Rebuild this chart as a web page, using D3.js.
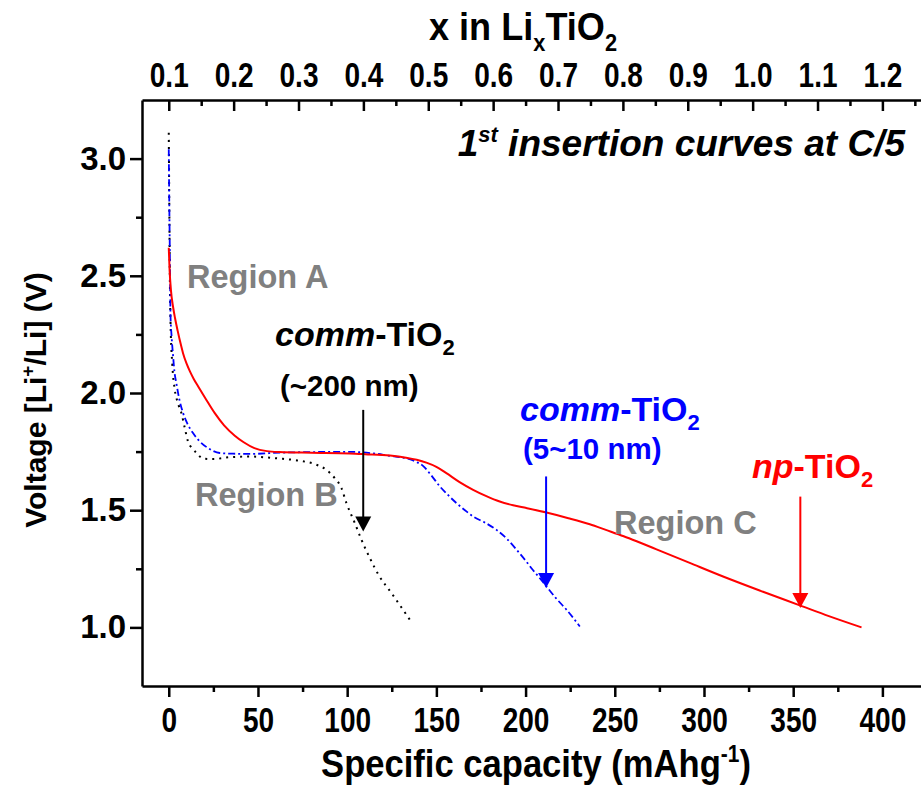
<!DOCTYPE html>
<html>
<head>
<meta charset="utf-8">
<script src="https://cdn.jsdelivr.net/npm/d3@7"></script>
<style>
	body { margin: 0; background: #fff; }
	text { font-family: "Liberation Sans", Arial, sans-serif; font-weight: bold; }
</style>
</head>
<body>
<div id="chart"></div>
<script>
var width = 921;
var height = 792;

// tick values
var capacityTicks = [0, 50, 100, 150, 200, 250, 300, 350, 400];
var capacityMinor = [25, 75, 125, 175, 225, 275, 325, 375];
var liTicks = [0.1, 0.2, 0.3, 0.4, 0.5, 0.6, 0.7, 0.8, 0.9, 1.0, 1.1, 1.2];
var liMinor = [0.15, 0.25, 0.35, 0.45, 0.55, 0.65, 0.75, 0.85, 0.95, 1.05, 1.15, 1.25];
var voltageTicks = [1.0, 1.5, 2.0, 2.5, 3.0];
var voltageMinor = [1.25, 1.75, 2.25, 2.75];

// np-TiO2 (red, solid): [capacity, voltage]
var npTiO2 = [
	[0, 2.62], [0.5, 2.52], [1.2, 2.44], [2.4, 2.368], [3.5, 2.32], [5, 2.265],
	[6.5, 2.215], [8, 2.17], [10, 2.125], [12, 2.09], [14, 2.06], [16.5, 2.028],
	[20.5, 1.978], [25.8, 1.914], [31, 1.862], [37, 1.818], [42, 1.79],
	[48, 1.765], [55, 1.752], [62, 1.748], [80, 1.745], [101.5, 1.742],
	[110, 1.739], [124, 1.733], [133, 1.724], [139, 1.715], [144.4, 1.703],
	[150, 1.685], [155.6, 1.658], [163, 1.62], [170.6, 1.587], [178, 1.56],
	[185.5, 1.537], [193, 1.521], [200.5, 1.509], [211.7, 1.49], [224, 1.466],
	[236, 1.44], [245, 1.416], [255, 1.389], [264, 1.362], [273.4, 1.333],
	[292, 1.275], [310.7, 1.217], [332, 1.155], [353.7, 1.094], [370, 1.048],
	[388.3, 1.0]
];

// comm-TiO2 5~10 nm (blue, dash-dot)
var commSmall = [
	[0, 3.04], [0.3, 2.8], [0.6, 2.6], [0.95, 2.34], [1.6, 2.24], [2.4, 2.16],
	[3.2, 2.09], [4.3, 2.04], [6, 1.97], [8, 1.915], [10.5, 1.868], [13.6, 1.829],
	[17.4, 1.793], [22, 1.765], [25, 1.752], [28.6, 1.744], [36, 1.741],
	[45, 1.740], [64, 1.746], [80, 1.748], [101.5, 1.749], [115, 1.742],
	[124, 1.732], [130, 1.726], [135, 1.718], [139, 1.705], [142.5, 1.689],
	[147, 1.65], [152, 1.601], [156.5, 1.565], [161.3, 1.530], [166, 1.5],
	[170.6, 1.473], [177, 1.448], [183.7, 1.416], [189.5, 1.378], [195, 1.331],
	[200, 1.285], [204, 1.246], [208, 1.21], [211.7, 1.175], [217, 1.125],
	[223, 1.075], [230.4, 1.004]
];

// comm-TiO2 ~200 nm (black, dotted)
var commLarge = [
	[0, 3.11], [0.3, 2.8], [0.6, 2.5], [1.0, 2.3], [2.0, 2.12], [3.4, 2.013],
	[5, 1.96], [7.1, 1.914], [9, 1.85], [10.8, 1.793], [13, 1.765], [15.5, 1.745],
	[19.2, 1.72], [24.8, 1.718], [34.2, 1.726], [45.4, 1.729], [54.8, 1.725],
	[64, 1.719], [73.4, 1.711], [82.8, 1.694], [88.4, 1.672], [93, 1.637],
	[96.8, 1.594], [99.6, 1.53], [104.3, 1.445], [108, 1.374], [112.7, 1.296],
	[117.9, 1.22], [124.8, 1.147], [131.7, 1.071], [135.1, 1.033]
];

var svg = d3
	.select("#chart")
	.append("svg")
	.attr("width", width)
	.attr("height", height)
	.style("background", "#fff");

var left = 142;
var right = 927;
var top_ = 100;
var bottom = 686;
var squeeze = 0.8; // the tick labels are horizontally condensed

var xscale = d3.scaleLinear().domain([-15, 425]).range([left, right]);
var yscale = d3.scaleLinear().domain([0.75, 3.25]).range([bottom, top_]);
var liscale = d3
	.scaleLinear()
	.domain([0.1 + (-15 * 1.1) / 400, 0.1 + (425 * 1.1) / 400])
	.range([left, right]);

function styleAxis(g) {
	g.selectAll("path").attr("stroke", "#000").attr("stroke-width", 2.5);
	g.selectAll("line").attr("stroke", "#000").attr("stroke-width", 2.5);
	g.selectAll("text").attr("fill", "#000");
}

// bottom axis
var xaxis = svg
	.append("g")
	.attr("transform", `translate(0,${bottom})`)
	.call(d3.axisBottom(xscale).tickValues(capacityTicks).tickSize(11).tickPadding(10).tickSizeOuter(0))
	.call(styleAxis);
xaxis.selectAll("text")
	.attr("font-size", 35)
	.attr("transform", `scale(${squeeze},1)`);
svg
	.append("g")
	.attr("transform", `translate(0,${bottom})`)
	.call(d3.axisBottom(xscale).tickValues(capacityMinor).tickSize(6).tickFormat("").tickSizeOuter(0))
	.call(styleAxis)
	.select("path").remove();

// left axis
var yaxis = svg
	.append("g")
	.attr("transform", `translate(${left},0)`)
	.call(d3.axisLeft(yscale).tickValues(voltageTicks).tickSize(12).tickPadding(4).tickSizeOuter(0).tickFormat(d3.format(".1f")))
	.call(styleAxis);
yaxis.selectAll("text").attr("font-size", 33);
svg
	.append("g")
	.attr("transform", `translate(${left},0)`)
	.call(d3.axisLeft(yscale).tickValues(voltageMinor).tickSize(6).tickFormat("").tickSizeOuter(0))
	.call(styleAxis)
	.select("path").remove();

// top axis: ticks point into the plot, labels above
svg
	.append("g")
	.attr("transform", `translate(0,${top_})`)
	.call(d3.axisBottom(liscale).tickValues(liTicks).tickSize(11).tickFormat("").tickSizeOuter(0))
	.call(styleAxis);
svg
	.append("g")
	.attr("transform", `translate(0,${top_})`)
	.call(d3.axisBottom(liscale).tickValues(liMinor).tickSize(6).tickFormat("").tickSizeOuter(0))
	.call(styleAxis)
	.select("path").remove();
var topLabels = svg
	.append("g")
	.attr("transform", `translate(0,${top_})`)
	.call(d3.axisTop(liscale).tickValues(liTicks).tickSize(0).tickPadding(13).tickFormat(d3.format(".1f")));
topLabels.select("path").remove();
topLabels.selectAll("text")
	.attr("font-size", 35)
	.attr("fill", "#000")
	.attr("transform", `scale(${squeeze},1)`);

// curves
var line = d3
	.line()
	.x((d) => xscale(d[0]))
	.y((d) => yscale(d[1]))
	.curve(d3.curveMonotoneX);

svg.append("path").datum(commLarge).attr("d", line)
	.attr("fill", "none").attr("stroke", "#000").attr("stroke-width", 2)
	.attr("stroke-dasharray", "2,5");
svg.append("path").datum(commSmall).attr("d", line)
	.attr("fill", "none").attr("stroke", "#0000ff").attr("stroke-width", 1.8)
	.attr("stroke-dasharray", "7,3,2,3");
svg.append("path").datum(npTiO2).attr("d", line)
	.attr("fill", "none").attr("stroke", "#ff0000").attr("stroke-width", 2);

// arrows: [capacity, from voltage, to voltage, colour]
var arrows = [
	[109, 1.928, 1.409, "#000"],
	[211.5, 1.644, 1.168, "#0000ff"],
	[354, 1.558, 1.083, "#ff0000"]
];
arrows.forEach(function (a) {
	var x = xscale(a[0]);
	var y1 = yscale(a[1]);
	var y2 = yscale(a[2]);
	svg.append("line").attr("x1", x).attr("x2", x).attr("y1", y1).attr("y2", y2 - 12)
		.attr("stroke", a[3]).attr("stroke-width", 2);
	svg.append("path")
		.attr("d", `M${x - 8},${y2 - 15} L${x + 8},${y2 - 15} L${x},${y2} Z`)
		.attr("fill", a[3]);
});

// titles
var ytitle = svg.append("text")
	.attr("transform", "translate(46,400) rotate(-90)")
	.attr("text-anchor", "middle")
	.attr("font-size", 30);
ytitle.append("tspan").text("Voltage [Li");
ytitle.append("tspan").text("+").attr("font-size", 19).attr("dy", -12);
ytitle.append("tspan").text("/Li] (V)").attr("dy", 12);

var xtitle = svg.append("text")
	.attr("transform", `translate(536,777) scale(0.91,1)`)
	.attr("text-anchor", "middle")
	.attr("font-size", 38);
xtitle.append("tspan").text("Specific capacity (mAhg");
xtitle.append("tspan").text("-1").attr("font-size", 23).attr("dy", -15);
xtitle.append("tspan").text(")").attr("dy", 15);

var toptitle = svg.append("text")
	.attr("transform", `translate(523,40) scale(0.95,1)`)
	.attr("text-anchor", "middle")
	.attr("font-size", 38);
toptitle.append("tspan").text("x in Li");
toptitle.append("tspan").text("x").attr("font-size", 23).attr("dy", 11);
toptitle.append("tspan").text("TiO").attr("dy", -11);
toptitle.append("tspan").text("2").attr("font-size", 23).attr("dy", 11);

// annotations
var note = svg.append("text")
	.attr("x", 905).attr("y", 156)
	.attr("text-anchor", "end")
	.attr("font-size", 37)
	.attr("font-style", "italic");
note.append("tspan").text("1");
note.append("tspan").text("st").attr("font-size", 22).attr("dy", -14);
note.append("tspan").text(" insertion curves at C/5").attr("dy", 14);

var grey = "#808080";
function label(x, y, str, colour, size) {
	return svg.append("text").attr("x", x).attr("y", y).attr("font-size", size).attr("fill", colour).text(str);
}
label(187, 288, "Region A", grey, 32.5);
label(195, 506, "Region B", grey, 32.5);
label(614, 534, "Region C", grey, 32.5);

function tio2(x, y, prefix, colour) {
	var t = svg.append("text").attr("x", x).attr("y", y).attr("font-size", 34).attr("fill", colour);
	t.append("tspan").text(prefix).attr("font-style", "italic");
	t.append("tspan").text("-TiO");
	t.append("tspan").text("2").attr("font-size", 22).attr("dy", 9);
	return t;
}
tio2(275, 346, "comm", "#000");
label(280, 396, "(~200 nm)", "#000", 29.5);
tio2(520, 421, "comm", "#0000ff");
label(523, 459, "(5~10 nm)", "#0000ff", 29.5);
tio2(752, 478, "np", "#ff0000");
</script>
</body>
</html>
